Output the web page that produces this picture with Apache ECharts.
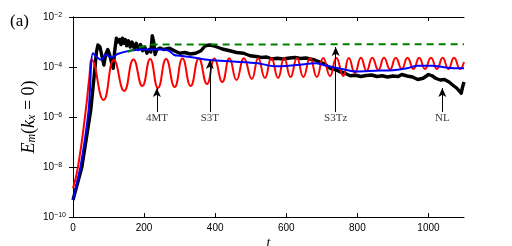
<!DOCTYPE html>
<html><head><meta charset="utf-8">
<script src="https://cdn.jsdelivr.net/npm/echarts@6/dist/echarts.min.js"></script>
<style>html,body{margin:0;padding:0;background:#fff}#c{width:512px;height:246px}</style>
</head><body><div id="c"></div>
<script>
// axis ticks
const xTicks = [0, 200, 400, 600, 800, 1000];
const yTickExps = [-10, -8, -6, -4, -2];

// values are log10(E_m)
// 4MT (red)
const redT   = [0, 14, 36, 46, 53, 86, 115, 144, 170, 195, 217, 239, 262, 286, 308, 331, 354, 377, 398, 420, 440, 460, 481, 503, 521, 540, 558, 577, 594, 612, 630, 648, 667, 686, 704, 723, 741, 760, 776, 793, 810, 826, 842, 859, 875, 892, 908, 925, 941, 958, 974, 990, 1007, 1024, 1040, 1056, 1072, 1089, 1100];
const redExp = [-8.85, -8.0, -5.72, -4.4, -3.72, -5.32, -3.72, -4.96, -3.7, -4.76, -3.68, -4.84, -3.68, -4.8, -3.66, -4.76, -3.66, -4.68, -3.66, -4.6, -3.65, -4.52, -3.65, -4.48, -3.65, -4.44, -3.64, -4.44, -3.64, -4.4, -3.64, -4.4, -3.64, -4.4, -3.64, -4.36, -3.64, -4.36, -3.64, -4.24, -3.63, -4.16, -3.63, -4.12, -3.63, -4.1, -3.63, -4.08, -3.63, -4.08, -3.63, -4.08, -3.63, -4.08, -3.63, -4.08, -3.63, -4.08, -3.8];

// S3T (blue)
const blueT   = [0, 21, 44, 56, 68, 80, 92, 108, 125, 160, 200, 250, 270, 285, 300, 330, 385, 450, 520, 567, 620, 685, 700, 740, 800, 850, 900, 940, 970, 1010, 1040, 1070, 1100];
const blueExp = [-9.32, -8.0, -5.72, -3.45, -3.62, -3.72, -3.5, -3.62, -3.48, -3.35, -3.3, -3.3, -3.35, -3.52, -3.55, -3.6, -3.72, -3.78, -3.85, -3.97, -3.93, -3.85, -3.9, -4.03, -4.18, -4.15, -4.13, -4.05, -3.95, -3.95, -4.0, -4.05, -4.05];

// S3Tz (green dashed)
const greenT   = [154, 190, 225, 1100];
const greenExp = [-3.39, -3.2, -3.1, -3.09];

// NL (black)
const blackT   = [0, 25, 50, 60, 66, 70, 76, 82, 87, 92, 98, 103, 108, 113, 117, 122, 127, 131, 135, 139, 143, 147, 151, 156, 161, 166, 172, 178, 184, 190, 196, 202, 208, 214, 219, 223, 227, 231, 236, 245, 255, 272, 285, 300, 315, 330, 345, 360, 372, 385, 395, 405, 420, 441, 460, 480, 498, 515, 530, 545, 560, 575, 590, 610, 625, 640, 655, 667, 680, 695, 710, 723, 737, 751, 765, 780, 795, 810, 825, 840, 855, 870, 885, 900, 915, 925, 940, 955, 970, 985, 1000, 1010, 1020, 1033, 1045, 1058, 1068, 1080, 1092, 1096, 1100];
const blackExp = [-9.32, -8.0, -5.72, -4.3, -3.4, -3.12, -3.2, -3.6, -3.92, -3.5, -3.3, -3.5, -3.8, -4.05, -3.4, -2.85, -3.0, -2.9, -3.1, -2.85, -3.05, -2.9, -3.15, -2.95, -3.2, -3.0, -3.25, -3.05, -3.3, -3.1, -3.35, -3.2, -3.45, -3.3, -3.4, -2.75, -3.0, -3.5, -3.3, -3.24, -3.3, -3.25, -3.35, -3.45, -3.42, -3.48, -3.45, -3.35, -3.15, -3.12, -3.15, -3.2, -3.28, -3.35, -3.42, -3.45, -3.55, -3.58, -3.62, -3.6, -3.68, -3.65, -3.68, -3.64, -3.62, -3.66, -3.64, -3.68, -3.72, -3.8, -3.9, -4.05, -4.1, -4.19, -4.25, -4.35, -4.33, -4.38, -4.34, -4.32, -4.38, -4.35, -4.4, -4.36, -4.38, -4.3, -4.36, -4.4, -4.5, -4.45, -4.3, -4.35, -4.45, -4.52, -4.5, -4.6, -4.72, -4.85, -5.05, -4.8, -4.6];

// annotations
const annoNames  = ['4MT', 'S3T', 'S3Tz', 'NL'];
const annoT      = [236, 385, 739, 1039];
const annoTipExp = [-4.84, -3.72, -3.2, -4.84];
const annoBaseExp  = -5.8;
const annoLabelExp = -6.04;

const pts = (T, E) => T.map((t, i) => [t, Math.pow(10, E[i])]);
const serif = 'Liberation Serif';
const sans = 'Liberation Sans';

const chart = echarts.init(document.getElementById('c'), null, {renderer: 'canvas'});
const common = {
  min: 0, max: 1100, type: 'value',
  axisLine: {show: true, lineStyle: {color: '#000', width: 1}},
  splitLine: {show: false}
};
const yCommon = {
  type: 'log', logBase: 10, min: Math.pow(10, yTickExps[0]), max: Math.pow(10, yTickExps[yTickExps.length - 1]), interval: 2,
  axisLine: {show: true, lineStyle: {color: '#000'}},
  splitLine: {show: false},
  axisTick: {show: true, inside: true, length: 4, lineStyle: {color: '#000'}}
};
chart.setOption({
  animation: false,
  backgroundColor: '#fff',
  title: {text: '(a)', left: 5, top: 8, textStyle: {fontFamily: serif, fontSize: 17, fontWeight: 'normal', color: '#000'}},
  grid: {left: 73, right: 48, top: 17, bottom: 29, containLabel: false, outerBoundsMode: 'none'},
  xAxis: [
    Object.assign({}, common, {
      position: 'bottom',
      name: 't', nameLocation: 'middle', nameGap: 19, nameMoveOverlap: false,
      nameTextStyle: {fontFamily: serif, fontStyle: 'italic', fontSize: 14, color: '#000'},
      axisTick: {show: true, inside: true, length: 4, customValues: xTicks, lineStyle: {color: '#000'}},
      axisLabel: {customValues: xTicks, formatter: v => String(v), margin: 6, fontFamily: sans, fontSize: 10, color: '#000'}
    }),
    Object.assign({}, common, {
      position: 'top',
      axisTick: {show: true, inside: true, length: 4, customValues: xTicks, lineStyle: {color: '#000'}},
      axisLabel: {show: false}
    })
  ],
  yAxis: [
    Object.assign({}, yCommon, {
      position: 'left',
      axisLabel: {
        margin: 30, align: 'left', color: '#000',
        formatter: v => '{b|10}{s|−' + Math.abs(Math.round(Math.log10(v))) + '}',
        rich: {
          b: {fontFamily: sans, fontSize: 10, lineHeight: 10, verticalAlign: 'bottom', color: '#000'},
          s: {fontFamily: sans, fontSize: 7, lineHeight: 7, verticalAlign: 'top', padding: [0, 0, 6, 0], color: '#000'}
        }
      },
      name: '{i|E}{s|m}{n|(}{i|k}{s|x}{n| = 0)}',
      nameLocation: 'middle', nameGap: 35, nameRotate: 90, nameMoveOverlap: false,
      nameTextStyle: {
        rich: {
          i: {fontFamily: serif, fontStyle: 'italic', fontSize: 18, lineHeight: 18, color: '#000'},
          n: {fontFamily: serif, fontSize: 18, lineHeight: 18, color: '#000'},
          s: {fontFamily: serif, fontStyle: 'italic', fontSize: 12, lineHeight: 9, verticalAlign: 'bottom', padding: [7, 0, 0, 0], color: '#000'}
        }
      }
    }),
    Object.assign({}, yCommon, {
      position: 'right',
      axisLabel: {show: false}
    })
  ],
  series: [
    {name: 'NL', type: 'line', data: pts(blackT, blackExp), showSymbol: false, z: 2,
     lineStyle: {color: '#000', width: 3.4, join: 'round'}},
    {name: '4MT', type: 'line', data: pts(redT, redExp), showSymbol: false, smooth: 0.5, z: 3,
     lineStyle: {color: '#ff0000', width: 2}},
    {name: 'S3T', type: 'line', data: pts(blueT, blueExp), showSymbol: false, smooth: 0.3, z: 4,
     lineStyle: {color: '#0000ff', width: 2}},
    {name: 'S3Tz', type: 'line', data: pts(greenT, greenExp), showSymbol: false, z: 5,
     lineStyle: {color: '#008000', width: 2, type: [7, 5]}},
    {name: 'labels', type: 'scatter', symbolSize: 0, z: 6,
     data: annoT.map((t, i) => ({value: [t, Math.pow(10, annoLabelExp)], name: annoNames[i]})),
     label: {show: true, position: 'inside', formatter: p => p.name, fontFamily: serif, fontSize: 11, color: '#000'},
     markLine: {
       silent: true, symbol: ['none', 'arrow'], symbolSize: [6, 9],
       lineStyle: {color: '#000', width: 1, type: 'solid'},
       label: {show: false},
       data: annoT.map((t, i) => [{coord: [t, Math.pow(10, annoBaseExp)]}, {coord: [t, Math.pow(10, annoTipExp[i])]}])
     }}
  ]
});
</script></body></html>
